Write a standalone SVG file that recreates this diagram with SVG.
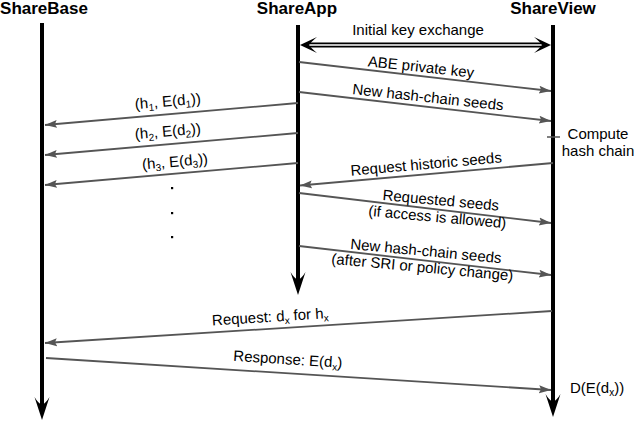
<svg xmlns="http://www.w3.org/2000/svg" width="634" height="422" viewBox="0 0 634 422">
<style>
.title{font-family:"Liberation Sans",Arial,sans-serif;font-weight:bold;font-size:17px;fill:#000;text-anchor:middle}
.lbl{font-family:"Liberation Sans",Arial,sans-serif;font-size:15px;fill:#000;text-anchor:middle}
.sub{font-size:10px}
.life{stroke:#000;stroke-width:4;fill:none}
.msg{stroke:#555;stroke-width:1.8;fill:none;marker-end:url(#ah)}
.head{fill:#000}
</style>
<defs>
<marker id="ah" markerUnits="userSpaceOnUse" markerWidth="13" markerHeight="10" refX="12" refY="4.5" orient="auto" viewBox="0 0 13 9">
<path d="M0,0.5 L12,4.5 L0,8.5 L2,4.5 Z" fill="#555"/>
</marker>
</defs>
<rect width="634" height="422" fill="#fff"/>

<g id="sharebase">
<text class="title" x="44" y="14">ShareBase</text>
<line class="life" x1="42" y1="23" x2="42" y2="408"/>
<path class="head" d="M42,420 L34.5,397 Q38,403 42,405 Q46,403 49.5,397 Z"/>
</g>
<g id="shareapp">
<text class="title" x="297" y="14">ShareApp</text>
<line class="life" x1="298" y1="25" x2="298" y2="283"/>
<path class="head" d="M298,295 L290.5,272 Q294,278 298,280 Q302,278 305.5,272 Z"/>
</g>
<g id="shareview">
<text class="title" x="553" y="14">ShareView</text>
<line class="life" x1="553" y1="25" x2="553" y2="405"/>
<path class="head" d="M553,417 L545.5,394 Q549,400 553,402 Q557,400 560.5,394 Z"/>
</g>

<g id="connectors">
<line x1="308" y1="45" x2="543" y2="45" stroke="#000" stroke-width="5"/>
<line x1="306" y1="45" x2="545" y2="45" stroke="#fff" stroke-width="1.6"/>
<path class="head" d="M300,45 L317,37 Q311,42 309,45 Q311,48 317,53 Z"/>
<path class="head" d="M551,45 L534,37 Q540,42 542,45 Q540,48 534,53 Z"/>
<line class="msg" x1="299" y1="62" x2="551" y2="91"/>
<line class="msg" x1="299" y1="92" x2="551" y2="121"/>
<line class="msg" x1="298" y1="103" x2="45" y2="125"/>
<line class="msg" x1="298" y1="133" x2="45" y2="155"/>
<line class="msg" x1="298" y1="163" x2="45" y2="185"/>
<line x1="547" y1="137" x2="560" y2="137" stroke="#555" stroke-width="1.5"/>
<line class="msg" x1="553" y1="163" x2="300" y2="185.5"/>
<line class="msg" x1="299" y1="193" x2="551" y2="223"/>
<line class="msg" x1="299" y1="246" x2="551" y2="275"/>
<line class="msg" x1="552" y1="311" x2="45" y2="343"/>
<line class="msg" x1="46" y1="358" x2="551" y2="390"/>
</g>

<g id="labels">
<text class="lbl" x="418" y="35">Initial key exchange</text>
<text class="lbl" transform="translate(420,75.9) rotate(6.2)" y="-4">ABE private key</text>
<text class="lbl" transform="translate(427,106.7) rotate(6.2)" y="-4.5">New hash-chain seeds</text>
<text class="lbl" transform="translate(169,114.3) rotate(-4.99)" y="-8">(h<tspan class="sub" dy="3">1</tspan><tspan dy="-3">, E(d</tspan><tspan class="sub" dy="3">1</tspan><tspan dy="-3">))</tspan></text>
<text class="lbl" transform="translate(169,144.3) rotate(-4.99)" y="-8">(h<tspan class="sub" dy="3">2</tspan><tspan dy="-3">, E(d</tspan><tspan class="sub" dy="3">2</tspan><tspan dy="-3">))</tspan></text>
<text class="lbl" transform="translate(176,173.6) rotate(-4.99)" y="-7">(h<tspan class="sub" dy="3">3</tspan><tspan dy="-3">, E(d</tspan><tspan class="sub" dy="3">3</tspan><tspan dy="-3">))</tspan></text>
<rect x="171" y="187" width="2.2" height="2.2" fill="#000"/>
<rect x="171" y="212" width="2.2" height="2.2" fill="#000"/>
<rect x="171" y="236" width="2.2" height="2.2" fill="#000"/>
<text class="lbl" x="598" y="139">Compute</text>
<text class="lbl" x="598" y="155.5">hash chain</text>
<text class="lbl" transform="translate(427,174) rotate(-5.01)" y="-5">Request historic seeds</text>
<text class="lbl" transform="translate(440,209.8) rotate(5.2)" y="-4.5">Requested seeds</text>
<text class="lbl" transform="translate(438,209.6) rotate(5.2)" y="12.5">(if access is allowed)</text>
<text class="lbl" transform="translate(425,260.5) rotate(5.4)" y="-4.5">New hash-chain seeds</text>
<text class="lbl" transform="translate(423,260.3) rotate(5.4)" y="12">(after SRI or policy change)</text>
<text class="lbl" transform="translate(271,328.8) rotate(-3.62)" y="-7">Request: d<tspan class="sub" dy="3">x</tspan><tspan dy="-3"> for h</tspan><tspan class="sub" dy="3">x</tspan></text>
<text class="lbl" transform="translate(287,373.3) rotate(3.63)" y="-9">Response: E(d<tspan class="sub" dy="3">x</tspan><tspan dy="-3">)</tspan></text>
<text class="lbl" x="570" y="393" style="text-anchor:start">D(E(d<tspan class="sub" dy="3">x</tspan><tspan dy="-3">))</tspan></text>
</g>
</svg>
